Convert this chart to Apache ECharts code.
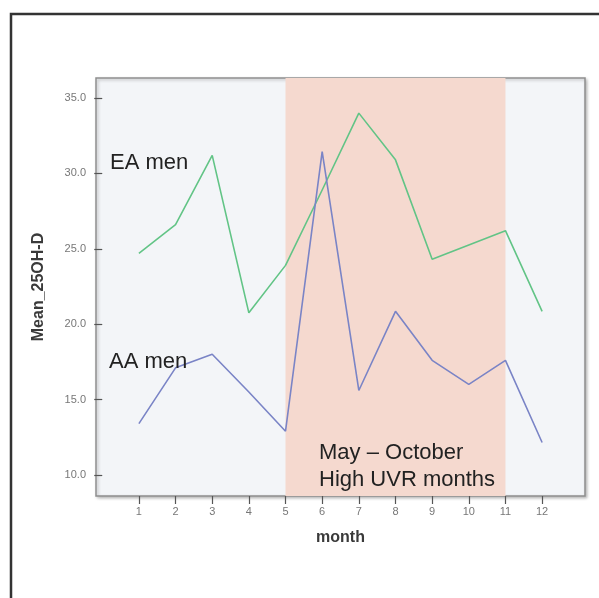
<!DOCTYPE html>
<html>
<head>
<meta charset="utf-8">
<script src="https://cdn.jsdelivr.net/npm/echarts@6/dist/echarts.min.js"></script>
<style>
  html, body { margin: 0; padding: 0; background: #ffffff; }
  #chart { width: 599px; height: 598px; }
</style>
</head>
<body>
<div id="chart"></div>
<script>
// ---- data ----
const months = [1, 2, 3, 4, 5, 6, 7, 8, 9, 10, 11, 12];
const eaMen = [24.7, 26.6, 31.2, 20.75, 23.9, 28.9, 34.0, 30.9, 24.3, 25.25, 26.2, 20.85];
const aaMen = [13.4, 17.1, 18.0, 15.5, 12.9, 31.45, 15.6, 20.85, 17.6, 16.0, 17.6, 12.15];
const yTicks = [10, 15, 20, 25, 30, 35];
const highUvrStart = 5;
const highUvrEnd = 11;
const labelEA = 'EA men';
const labelAA = 'AA men';
const noteLine1 = 'May – October';
const noteLine2 = 'High UVR months';

const chart = echarts.init(document.getElementById('chart'), null, { renderer: 'canvas' });
const font = 'Liberation Sans, Arial, sans-serif';

const option = {
  backgroundColor: '#ffffff',
  animation: false,
  grid: {
    left: 96, top: 78, right: 14, bottom: 102,
    show: true,
    backgroundColor: '#f3f5f8',
    borderColor: '#8e8e8e',
    borderWidth: 1.5,
    shadowColor: 'rgba(0,0,0,0.25)',
    shadowBlur: 3,
    shadowOffsetX: 1.5,
    shadowOffsetY: 1.5
  },
  xAxis: {
    type: 'value',
    min: -0.17,
    max: 13.17,
    name: 'month',
    nameLocation: 'middle',
    nameGap: 34,
    nameTextStyle: { fontFamily: font, fontSize: 16, fontWeight: 'bold', color: '#3a3a3a' },
    axisLine: { show: false },
    splitLine: { show: false },
    axisTick: { show: true, length: 8, customValues: months, lineStyle: { color: '#555', width: 1.2 } },
    axisLabel: {
      customValues: months,
      margin: 10,
      fontFamily: font, fontSize: 11, color: '#777'
    }
  },
  yAxis: {
    type: 'value',
    min: 8.6,
    max: 36.33,
    name: 'Mean_25OH-D',
    nameLocation: 'middle',
    nameGap: 49,
    nameTextStyle: { fontFamily: font, fontSize: 16, fontWeight: 'bold', color: '#3a3a3a' },
    axisLine: { show: false },
    splitLine: { show: false },
    axisTick: { show: true, length: 8, customValues: yTicks, lineStyle: { color: '#555', width: 1.2 } },
    axisLabel: {
      customValues: yTicks,
      margin: 10,
      fontFamily: font, fontSize: 11, color: '#777',
      formatter: v => Number(v).toFixed(1)
    }
  },
  series: [
    {
      type: 'line',
      data: [],
      silent: true,
      z: 1,
      markArea: {
        silent: true,
        itemStyle: { color: '#f5d9cf', opacity: 1 },
        data: [[{ xAxis: highUvrStart }, { xAxis: highUvrEnd }]]
      }
    },
    {
      name: labelEA,
      type: 'line',
      z: 3,
      showSymbol: false,
      data: months.map((m, i) => [m, eaMen[i]]),
      lineStyle: { color: '#62c486', width: 1.6 },
      itemStyle: { color: '#62c486' }
    },
    {
      name: labelAA,
      type: 'line',
      z: 3,
      showSymbol: false,
      data: months.map((m, i) => [m, aaMen[i]]),
      lineStyle: { color: '#7a84c6', width: 1.6 },
      itemStyle: { color: '#7a84c6' }
    }
  ],
  graphic: [
    {
      type: 'polyline',
      z: 10,
      shape: { points: [[11, 598], [11, 14], [599, 14]] },
      style: { stroke: '#333', lineWidth: 2.5, fill: null }
    },
    {
      type: 'text', z: 20, left: 110, top: 152,
      style: { text: labelEA, font: '22px Liberation Sans, Arial, sans-serif', fill: '#222' }
    },
    {
      type: 'text', z: 20, left: 109, top: 351,
      style: { text: labelAA, font: '22px Liberation Sans, Arial, sans-serif', fill: '#222' }
    },
    {
      type: 'text', z: 20, left: 319, top: 439,
      style: { text: noteLine1 + '\n' + noteLine2, font: '22px Liberation Sans, Arial, sans-serif', fill: '#222', lineHeight: 27 }
    }
  ]
};

chart.setOption(option);
</script>
</body>
</html>
